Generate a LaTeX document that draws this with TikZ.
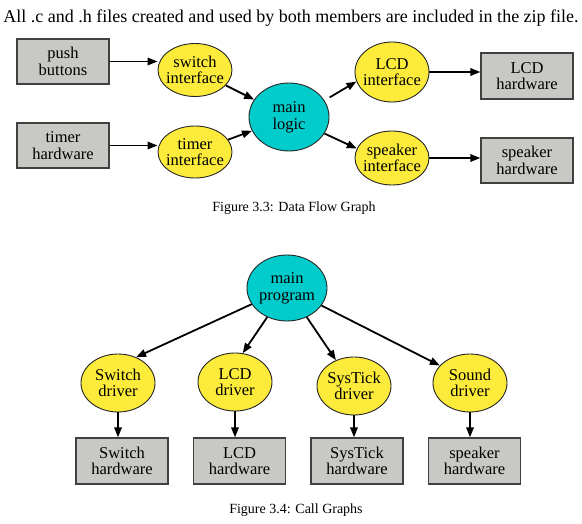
\documentclass[tikz,border=0pt]{standalone}
\usepackage{fontspec}
\setmainfont{Liberation Serif}
\usepackage{tikz}
\usetikzlibrary{positioning,arrows.meta,shapes.geometric}
\definecolor{ifyellow}{RGB}{252,235,58}
\definecolor{hubcyan}{RGB}{0,204,204}
\definecolor{boxgray}{RGB}{200,200,196}
\tikzset{
	hwbox/.style={draw=black!75, line width=1.3pt, fill=boxgray,
		minimum width=92pt, minimum height=45pt, inner sep=0pt,
		align=center, font=\fontsize{16.5}{16.7}\selectfont},
	iface/.style={ellipse, draw=black!85, line width=0.9pt, fill=ifyellow,
		minimum width=74pt, minimum height=54pt, inner xsep=-4pt, inner ysep=0pt,
		align=center, font=\fontsize{16.5}{16.7}\selectfont},
	hub/.style={iface, fill=hubcyan, minimum width=80pt, minimum height=68pt},
	flow/.style={-{Triangle[length=10pt,width=7.5pt]}, line width=1.8pt}
}

\begin{document}
\begin{tikzpicture}[x=1pt, y=-1pt]
		\useasboundingbox (0,0) rectangle (582,524);
		
		\node[anchor=base, font=\fontsize{18}{20}\selectfont] (intro) at (291,23) {All .c and .h files created and used by both members are included in the zip file.};
		
		\node[hwbox] (push) at (63,61.5) {push\\buttons};
		\node[hwbox] (timerhw) at (63,145.5) {timer\\hardware};
		\node[iface, minimum height=53pt] (swint) at (195,70) {switch\\interface};
		\node[iface, minimum height=52pt] (tmint) at (195,152) {timer\\interface};
		\node[hub] (mainlogic) at (289,117) {main\\logic};
		\node[iface, minimum height=60pt] (lcdint) at (392,72) {LCD\\interface};
		\node[iface] (spkint) at (392,158) {speaker\\interface};
		\node[hwbox, minimum height=46pt] (lcdhw) at (527,76) {LCD\\hardware};
		\node[hwbox] (spkhw) at (527,160.5) {speaker\\hardware};
		
		\draw[flow] (push.east) -- (push.east -| swint.west);
		\draw[flow] (timerhw.east) -- (timerhw.east -| tmint.west);
		\draw[flow] (swint) -- (mainlogic);
		\draw[flow] (tmint) -- (mainlogic);
		\draw[flow, shorten <=6pt] (mainlogic.25) -- (lcdint.195);
		\draw[flow] (mainlogic.-25) -- (spkint.165);
		\draw[flow] (lcdint.east) -- (lcdint.east -| lcdhw.west);
		\draw[flow] (spkint.east) -- (spkint.east -| spkhw.west);
		
		\node[anchor=base, font=\fontsize{14}{16}\selectfont] (capflow) at (294,212) {Figure 3.3: Data Flow Graph};
		
		\node[hub, minimum height=66pt] (mainprog) at (287,288) {main\\program};
		\node[iface, minimum height=58pt] (swdrv) at (118,383) {Switch\\driver};
		\node[iface, minimum height=58pt] (lcddrv) at (235,382) {LCD\\driver};
		\node[iface, minimum height=58pt] (stdrv) at (354,386) {SysTick\\driver};
		\node[iface, minimum height=58pt] (snddrv) at (470,383) {Sound\\driver};
		\node[hwbox, minimum height=46pt] (swhw) at (122,461) {Switch\\hardware};
		\node[hwbox, minimum height=46pt] (lcdhwb) at (239.5,461) {LCD\\hardware};
		\node[hwbox, minimum height=46pt] (sthw) at (357,461) {SysTick\\hardware};
		\node[hwbox, minimum height=46pt] (sphw) at (474.5,461) {speaker\\hardware};
		
		\draw[flow] (mainprog) -- (swdrv.55);
		\draw[flow] (mainprog) -- (lcddrv.75);
		\draw[flow] (mainprog) -- (stdrv.125);
		\draw[flow] (mainprog) -- (snddrv.150);
		\foreach \drv/\hw in {swdrv/swhw, lcddrv/lcdhwb, stdrv/sthw, snddrv/sphw}
			\draw[flow] (\drv.south) -- (\drv.south |- \hw.north);
		
		\node[anchor=base, font=\fontsize{14}{16}\selectfont] (capcall) at (296,513) {Figure 3.4: Call Graphs};
	\end{tikzpicture}
\end{document}
